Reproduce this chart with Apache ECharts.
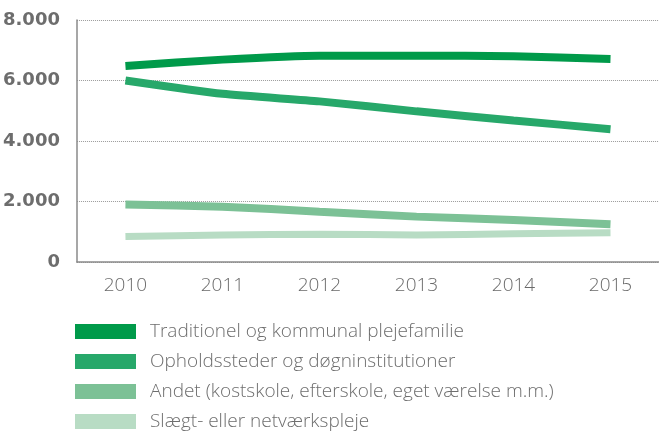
<!DOCTYPE html>
<html>
<head>
<meta charset="utf-8">
<script src="https://cdn.jsdelivr.net/npm/echarts@6/dist/echarts.min.js"></script>
<style>
  html, body { margin: 0; padding: 0; background: #fff; }
  #chart { width: 659px; height: 432px; }
</style>
</head>
<body>
<div id="chart"></div>
<script>
// data
const years = ['2010', '2011', '2012', '2013', '2014', '2015'];
const traditionel = [6480, 6690, 6820, 6820, 6800, 6710];
const opholdssteder = [6000, 5560, 5310, 4980, 4680, 4390];
const andet = [1900, 1830, 1665, 1500, 1390, 1250];
const slaegt = [840, 895, 917, 895, 937, 970];

const names = [
  'Traditionel og kommunal plejefamilie',
  'Opholdssteder og døgninstitutioner',
  'Andet (kostskole, efterskole, eget værelse m.m.)',
  'Slægt- eller netværkspleje'
];
const colors = ['#009a4a', '#27a86a', '#7cc196', '#b8dcc4'];
const values = [traditionel, opholdssteder, andet, slaegt];

const chart = echarts.init(document.getElementById('chart'));

const option = {
  animation: false,
  grid: { left: 75, right: -6, top: 20, bottom: 170 },
  legend: {
    orient: 'vertical',
    left: 75,
    top: 322,
    height: 200,
    padding: 0,
    icon: 'rect',
    itemWidth: 61,
    itemHeight: 15,
    itemGap: 11,
    itemStyle: { borderWidth: 0 },
    textStyle: {
      color: '#6e6e6e',
      fontFamily: 'Open Sans',
      fontSize: 19,
      fontWeight: 300,
      lineHeight: 15,
      padding: [0, 0, 0, 9]
    },
    data: names
  },
  xAxis: {
    type: 'category',
    data: years,
    boundaryGap: true,
    axisLine: { lineStyle: { color: '#8a8a8a', width: 1.5 } },
    axisTick: { show: false },
    axisLabel: {
      color: '#6a6a6a',
      fontFamily: 'Open Sans',
      fontSize: 19,
      fontWeight: 300,
      margin: 14
    }
  },
  yAxis: {
    type: 'value',
    min: 0,
    max: 8000,
    interval: 2000,
    axisLine: { show: true, lineStyle: { color: '#8a8a8a', width: 1.5 } },
    axisTick: { show: false },
    splitLine: { lineStyle: { color: '#9a9a9a', type: 'dotted', width: 1 } },
    axisLabel: {
      color: '#6d6d6d',
      fontFamily: 'DejaVu Sans',
      fontWeight: 'bold',
      fontSize: 18,
      margin: 17,
      formatter: v => v === 0 ? '0' : (v / 1000) + '.000'
    }
  },
  series: names.map((n, i) => ({
    name: n,
    type: 'line',
    data: values[i],
    symbol: 'none',
    smooth: 0.2,
    z: 10 - i,
    itemStyle: { color: colors[i] },
    lineStyle: { color: colors[i], width: i === 3 ? 7 : 8, cap: 'butt' }
  }))
};

chart.setOption(option);
</script>
</body>
</html>
